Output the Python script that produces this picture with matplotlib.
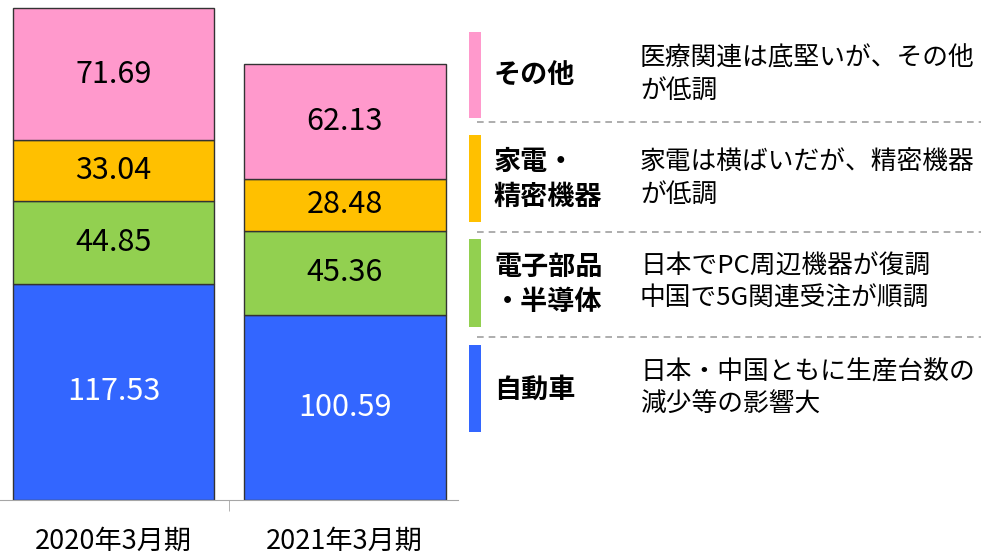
import matplotlib.pyplot as plt
from matplotlib.patches import Rectangle

plt.rcParams['font.family'] = ['Noto Sans CJK JP', 'DejaVu Sans']

periods = ['2020年3月期', '2021年3月期']
segments = ['自動車', '電子部品・半導体', '家電・精密機器', 'その他']
jidosha = [117.53, 100.59]
denshi = [44.85, 45.36]
kaden = [33.04, 28.48]
sonota = [71.69, 62.13]
colors = ['#3366FF', '#92D050', '#FFC000', '#FF99CC']
text_colors = ['white', 'black', 'black', 'black']

legend_labels = ['自動車', '電子部品\n・半導体', '家電・\n精密機器', 'その他']
legend_notes = ['日本・中国ともに生産台数の\n減少等の影響大',
                '日本でPC周辺機器が復調\n中国で5G関連受注が順調',
                '家電は横ばいだが、精密機器\nが低調',
                '医療関連は底堅いが、その他\nが低調']

fig = plt.figure(figsize=(9.81, 5.55), dpi=100)

# bar chart
ax = fig.add_axes([0, 55 / 555, 458 / 981, 500 / 555])
x = [0, 1]
bottom = [0, 0]
for vals, col, tc in zip([jidosha, denshi, kaden, sonota], colors, text_colors):
    ax.bar(x, vals, width=0.872, bottom=bottom, color=col,
           edgecolor='#333333', linewidth=1)
    for i in x:
        ax.text(i, bottom[i] + vals[i] / 2, f'{vals[i]:.2f}', ha='center',
                va='center', fontsize=22, color=tc)
    bottom = [b + v for b, v in zip(bottom, vals)]

ax.set_xlim(-0.492, 1.49)
ax.set_ylim(0, 271.5)
ax.set_xticks(x)
ax.set_xticklabels(periods, fontsize=19.5)
ax.set_xticks([0.5], minor=True)
ax.tick_params(axis='x', which='major', length=0, pad=20)
ax.tick_params(axis='x', which='minor', length=8, color='#A6A6A6')
ax.set_yticks([])
for s in ['top', 'left', 'right']:
    ax.spines[s].set_visible(False)
ax.spines['bottom'].set_color('#A6A6A6')

# legend panel in pixel coordinates
lg = fig.add_axes([460 / 981, 0, 521 / 981, 1])
lg.set_xlim(460, 981)
lg.set_ylim(555, 0)
lg.axis('off')

blocks = [(345, 432), (239, 327), (135, 222), (32, 118)]
for (y0, y1), col, lab, note in zip(blocks, colors, legend_labels, legend_notes):
    lg.add_patch(Rectangle((469, y0), 12, y1 - y0, color=col, lw=0))
    mid = (y0 + y1) / 2
    lg.text(494, mid + 1, lab, ha='left', va='center', fontsize=19.5,
            fontweight='bold', linespacing=1.32)
    lg.text(640, mid, note, ha='left', va='center', fontsize=18.5,
            linespacing=1.32)

for yy in [122, 232, 337]:
    lg.plot([477, 981], [yy, yy], color='#A0A0A0', lw=1.2,
            linestyle=(0, (4, 3)))

fig.savefig('out.png', dpi=100)
